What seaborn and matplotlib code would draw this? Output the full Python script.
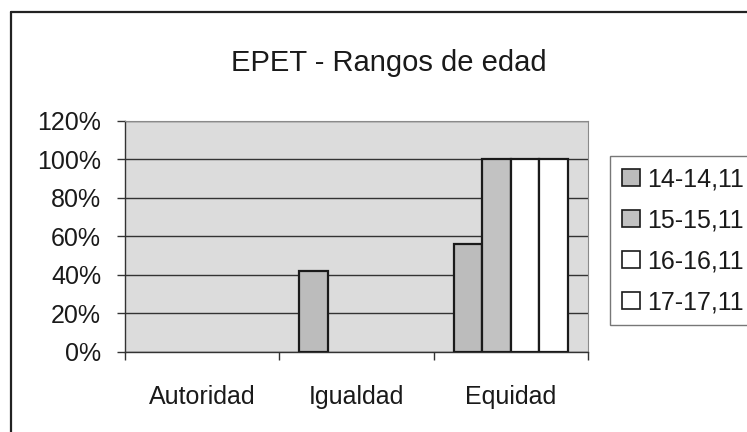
import matplotlib
matplotlib.use("Agg")
import matplotlib.pyplot as plt
import seaborn as sns
import pandas as pd
from matplotlib.lines import Line2D
from matplotlib.ticker import PercentFormatter

categories = ["Autoridad", "Igualdad", "Equidad"]
series_names = ["14-14,11", "15-15,11", "16-16,11", "17-17,11"]
s14 = [0.0, 0.42, 0.56]
s15 = [0.0, 0.0, 1.00]
s16 = [0.0, 0.0, 1.00]
s17 = [0.0, 0.0, 1.00]
y_ticks = [0, 0.2, 0.4, 0.6, 0.8, 1.0, 1.2]

rows = []
for name, vals in zip(series_names, [s14, s15, s16, s17]):
    for cat, v in zip(categories, vals):
        rows.append({"cat": cat, "serie": name, "valor": v})
df = pd.DataFrame(rows)

sns.set_style("white")
plt.rcParams["font.family"] = ["Liberation Sans", "DejaVu Sans"]

fig = plt.figure(figsize=(7.47, 4.32), dpi=100)
ax = fig.add_axes([0.167, 0.186, 0.62, 0.535])

palette = ["#bcbcbc", "#c2c2c2", "#ffffff", "#ffffff"]
sns.barplot(data=df, x="cat", y="valor", hue="serie", order=categories,
            hue_order=series_names, palette=palette, width=0.74,
            edgecolor="#1a1a1a", linewidth=1.6, ax=ax, legend=False, zorder=3)

# Excel draws nothing for the 0% bars
for p in ax.patches:
    if p.get_height() == 0:
        p.set_visible(False)

ax.set_facecolor("#dcdcdc")
ax.set_xlim(-0.5, 2.5)
ax.set_ylim(0, 1.2)
ax.set_yticks(y_ticks)
ax.yaxis.set_major_formatter(PercentFormatter(1.0, decimals=0))
ax.grid(axis="y", color="#333333", linewidth=1.0, zorder=1)
ax.set_axisbelow(True)
ax.set_xlabel("")
ax.set_ylabel("")

# category boundaries as ticks, labels in the middle
ax.set_xticks([-0.5, 0.5, 1.5, 2.5])
ax.set_xticklabels([])
ax.set_xticks([0, 1, 2], minor=True)
ax.set_xticklabels(categories, minor=True)
ax.tick_params(axis="x", which="major", direction="out", length=6, width=1, color="#333333", bottom=True)
ax.tick_params(axis="x", which="minor", length=0, pad=24, labelsize=18, labelcolor="#1a1a1a")
ax.tick_params(axis="y", direction="out", length=6, width=1, color="#333333", left=True, pad=11,
               labelsize=18, labelcolor="#1a1a1a")

for side in ["top", "right"]:
    ax.spines[side].set_color("#8a8a8a")
    ax.spines[side].set_linewidth(0.8)
for side in ["left", "bottom"]:
    ax.spines[side].set_color("#333333")
    ax.spines[side].set_linewidth(1.0)

ax.set_title("EPET - Rangos de edad", fontsize=21, pad=36, x=0.57, color="#1a1a1a")

handles = [plt.Rectangle((0, 0), 1, 1, facecolor=c, edgecolor="#1a1a1a", linewidth=1.2)
           for c in palette]
leg = fig.legend(handles, series_names, loc="upper left", bbox_to_anchor=(0.817, 0.639),
                 fontsize=18, frameon=True, fancybox=False, handlelength=0.72,
                 handleheight=0.72, handletextpad=0.3, labelspacing=0.68,
                 borderpad=0.45, borderaxespad=0, edgecolor="#555555")
leg.get_frame().set_linewidth(1.0)
for t in leg.get_texts():
    t.set_color("#1a1a1a")

# chart area border (left and top visible)
fig.add_artist(Line2D([11 / 747, 11 / 747], [0, 1 - 12 / 432], transform=fig.transFigure,
                      color="#222222", linewidth=1.6))
fig.add_artist(Line2D([11 / 747, 1], [1 - 12 / 432, 1 - 12 / 432], transform=fig.transFigure,
                      color="#222222", linewidth=1.6))

fig.savefig("out.png", dpi=100)
